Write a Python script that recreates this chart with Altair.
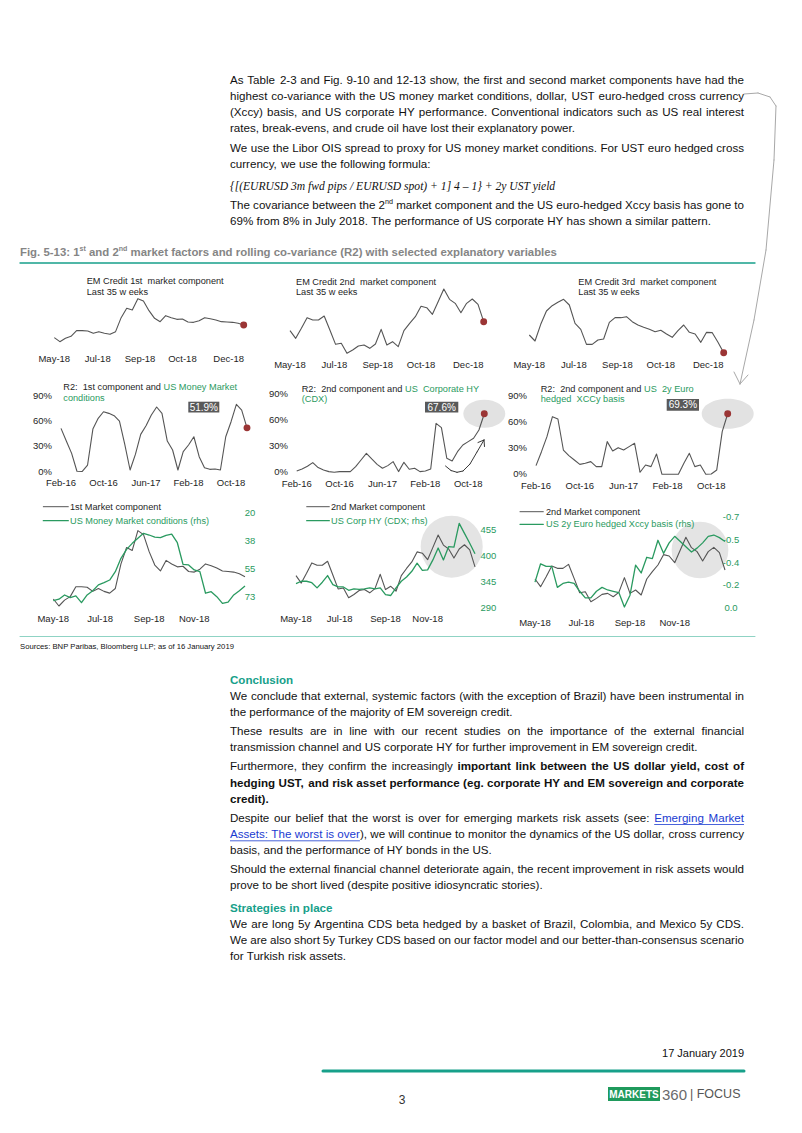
import altair as alt
import pandas as pd

OFF = 8
FONT = "Liberation Sans"
INK = "#111111"
GREEN = "#2a9a60"
TEAL = "#17a08a"
GREYLINE = "#555555"
DOT = "#9b3535"
LINK = "#1a3bd1"

# ---------------- data ----------------
comp1 = [22, 10, 20, 26, 43, 43, 42, 35, 40, 35, 32, 40, 82, 110, 105, 139, 132, 103, 80, 70,
         88, 82, 77, 78, 69, 68, 73, 82, 79, 75, 70, 69, 68, 65, 60]
comp2 = [103, 80, 110, 142, 135, 135, 147, 105, 62, 65, 35, 45, 57, 60, 50, 63, 107, 60, 70, 55,
         103, 125, 145, 176, 172, 152, 190, 228, 197, 185, 157, 185, 198, 182, 130]
comp3 = [90, 72, 122, 162, 178, 188, 197, 180, 125, 107, 62, 62, 75, 78, 128, 142, 142, 145, 130, 120,
         113, 107, 100, 104, 93, 83, 103, 120, 98, 93, 68, 98, 97, 68, 37]
r2_mm = [51.3, 36.3, 21.7, 0.5, 0.3, 7.9, 50.5, 63.2, 71.0, 69.1, 66.3, 60.0, 32.4, 2.0, 20.5, 44.2,
         54.5, 67.1, 76.6, 69.1, 36.3, 25.7, 2.0, 23.7, 31.6, 41.4, 17.8, 4.7, 2.8, 3.2, 2.0, 41.4,
         59.2, 79.7, 73.0, 51.9]
r2_hy = [1.5, 3.8, 6.9, 11.2, 5.4, 2.7, 0.8, 0.0, 0.8, 0.8, 0.8, 6.5, 14.2, 21.9, 15.4, 9.2, 4.6,
         7.7, 12.3, 0.8, 11.5, 3.5, 4.6, 0.8, 1.5, 3.8, 56.5, 51.5, 16.2, 13.1, 23.8, 31.5, 35.4,
         39.2, 48.8, 67.6]
r2_xccy = [9.9, 25.9, 43.1, 66.0, 63.3, 27.8, 21.4, 16.4, 11.4, 12.6, 14.5, 8.8, 8.8, 37.4, 26.7,
           30.5, 27.8, 31.7, 35.5, 2.3, 10.7, 8.8, 23.3, 0.0, 0.0, 0.0, 0.0, 12.6, 24.0, 8.8, 10.7,
           0.0, 0.4, 5.0, 48.8, 69.3]
mm_rhs = [75.5, 74.6, 71.9, 73.6, 72.5, 76.8, 71.9, 69.2, 65.5, 64.1, 62.4, 57.1, 48.6, 42.9, 39.1,
          35.9, 32.7, 33.8, 35.2, 35.5, 34.0, 33.2, 38.7, 52.4, 52.8, 56.0, 57.1, 70.8, 69.8, 73.0,
          77.2, 76.5, 71.9, 69.2, 66.2]
cdx_rhs = [342, 347, 347, 344, 333, 345, 359, 340, 335, 335, 328, 331, 330, 331, 333, 331, 333, 319,
           317, 333, 347, 356, 368, 385, 370, 371, 392, 417, 392, 420, 419, 469, 448, 427, 405]
xccy_rhs = [-0.20, -0.34, -0.32, -0.32, -0.16, -0.19, -0.20, -0.19, -0.13, -0.08, -0.08, -0.13, -0.16,
            -0.14, -0.13, -0.12, -0.01, -0.10, -0.33, -0.27, -0.39, -0.38, -0.52, -0.42, -0.50, -0.55,
            -0.51, -0.47, -0.43, -0.46, -0.50, -0.55, -0.56, -0.54, -0.51]

week_ticks_top = ["May-18", "Jul-18", "Sep-18", "Oct-18", "Dec-18"]
week_pos_top = [0, 7.8, 15.4, 23, 31.3]
month_ticks = ["Feb-16", "Oct-16", "Jun-17", "Feb-18", "Oct-18"]
month_pos = [0, 8, 16, 24, 32]
week_ticks_bot = ["May-18", "Jul-18", "Sep-18", "Nov-18"]
week_pos_bot = [0, 8.3, 17, 25]
pct_ticks = [0, 30, 60, 90]
mm_ticks = [20, 37.67, 55.33, 73]
mm_labels = ["20", "38", "55", "73"]
cdx_ticks = [290, 345, 400, 455]
xccy_ticks = [0.0, -0.175, -0.35, -0.525, -0.7]
xccy_labels = ["0.0", "-0.2", "-0.4", "-0.5", "-0.7"]

para1 = ["As Table 2-3 and Fig. 9-10 and 12-13 show, the first and second market components have had the",
         "highest co-variance with the US money market conditions, dollar, UST euro-hedged cross currency",
         "(Xccy) basis, and US corporate HY performance. Conventional indicators such as US real interest",
         "rates, break-evens, and crude oil have lost their explanatory power."]
para2 = ["We use the Libor OIS spread to proxy for US money market conditions. For UST euro hedged cross",
         "currency, we use the following formula:"]
formula = "{[(EURUSD 3m fwd pips / EURUSD spot) + 1] 4 \u2013 1} + 2y UST yield"
para3 = [[("The covariance between the 2", "n"), ("nd", "s"),
          (" market component and the US euro-hedged Xccy basis has gone to", "n")],
         "69% from 8% in July 2018. The performance of US corporate HY has shown a similar pattern."]
fig_title = [[("Fig. 5-13: 1", "ft"), ("st", "fs"), (" and 2", "ft"), ("nd", "fs"),
              (" market factors and rolling co-variance (R2) with selected explanatory variables", "ft")]]
sources = "Sources: BNP Paribas, Bloomberg LLP; as of 16 January 2019"
conc1 = ["We conclude that external, systemic factors (with the exception of Brazil) have been instrumental in",
         "the performance of the majority of EM sovereign credit."]
conc2 = ["These results are in line with our recent studies on the importance of the external financial",
         "transmission channel and US corporate HY for further improvement in EM sovereign credit."]
conc3 = [[("Furthermore, they confirm the increasingly ", "n"),
          ("important link between the US dollar yield, cost of", "b")],
         [("hedging UST, and risk asset performance (eg. corporate HY and EM sovereign and corporate", "b")],
         [("credit).", "b")]]
conc4 = [[("Despite our belief that the worst is over for emerging markets risk assets (see: ", "n"),
          ("Emerging Market", "l")],
         [("Assets: The worst is over", "l"),
          ("), we will continue to monitor the dynamics of the US dollar, cross currency", "n")],
         "basis, and the performance of HY bonds in the US."]
conc5 = ["Should the external financial channel deteriorate again, the recent improvement in risk assets would",
         "prove to be short lived (despite positive idiosyncratic stories)."]
strat = ["We are long 5y Argentina CDS beta hedged by a basket of Brazil, Colombia, and Mexico 5y CDS.",
         "We are also short 5y Turkey CDS based on our factor model and our better-than-consensus scenario",
         "for Turkish risk assets."]

# ---------------- font metrics (Arial / Helvetica) ----------------
REG = {c: 556 for c in "0123456789"}
REG.update({' ': 278, '!': 278, '"': 355, '#': 556, '$': 556, '%': 889, '&': 667, "'": 191, '(': 333,
            ')': 333, '*': 389, '+': 584, ',': 278, '-': 333, '.': 278, '/': 278, ':': 278, ';': 278,
            '?': 556, '[': 278, ']': 278, '{': 334, '}': 334, '|': 260, '\u2013': 556})
REG.update(dict(zip("ABCDEFGHIJKLMNOPQRSTUVWXYZ",
                    [667, 667, 722, 722, 667, 611, 778, 722, 278, 500, 667, 556, 833, 722, 778, 667, 778,
                     722, 667, 611, 722, 667, 944, 667, 667, 611])))
REG.update(dict(zip("abcdefghijklmnopqrstuvwxyz",
                    [556, 556, 500, 556, 556, 278, 556, 556, 222, 222, 500, 222, 833, 556, 556, 556, 556,
                     333, 500, 278, 556, 500, 722, 500, 500, 500])))
BOLD = {c: 556 for c in "0123456789"}
BOLD.update({' ': 278, '!': 333, '"': 474, '%': 889, '&': 722, "'": 238, '(': 333, ')': 333, ',': 278,
             '-': 333, '.': 278, '/': 278, ':': 333, ';': 333, '?': 611, '[': 333, ']': 333})
BOLD.update(dict(zip("ABCDEFGHIJKLMNOPQRSTUVWXYZ",
                     [722, 722, 722, 722, 667, 611, 778, 722, 278, 556, 722, 611, 833, 722, 778, 667, 778,
                      722, 667, 611, 722, 667, 944, 667, 667, 611])))
BOLD.update(dict(zip("abcdefghijklmnopqrstuvwxyz",
                     [556, 611, 556, 611, 556, 333, 611, 611, 278, 278, 556, 278, 889, 611, 611, 611, 611,
                      389, 556, 333, 611, 556, 778, 556, 556, 500])))

STY = {
    "n": dict(bold=False, sup=False, color=INK),
    "b": dict(bold=True, sup=False, color=INK),
    "l": dict(bold=False, sup=False, color=LINK),
    "s": dict(bold=False, sup=True, color=INK),
    "ft": dict(bold=True, sup=False, color="#858585"),
    "fs": dict(bold=True, sup=True, color="#858585"),
    "c": dict(bold=False, sup=False, color="#1e1e1e"),
    "g": dict(bold=False, sup=False, color=GREEN),
    "h": dict(bold=True, sup=False, color=TEAL),
}


def P(v):
    return v - OFF


def tw(text, bold, size):
    tab = BOLD if bold else REG
    return sum(tab.get(ch, 556) for ch in text) * size / 1000.0


def tokenize(line):
    toks, sp = [], 0
    for text, st in line:
        parts = text.split(" ")
        for k, p in enumerate(parts):
            if k > 0:
                sp += 1
            if p == "":
                continue
            toks.append((p, st, sp if toks else 0))
            sp = 0
    return toks


def text_block(lines, x0, y0, lh, size, target=None, style="n"):
    rows, unders = [], []
    for li, line in enumerate(lines):
        if isinstance(line, str):
            line = [(line, style)]
        toks = tokenize(line)
        ws = [tw(t, STY[st]["bold"], size * (0.62 if STY[st]["sup"] else 1)) for t, st, sp in toks]
        nsp = sum(sp for _, _, sp in toks)
        spw = 278 * size / 1000
        nat = sum(ws) + nsp * spw
        if target is not None and nsp > 0 and li < len(lines) - 1:
            spw = spw + (target - nat) / nsp
        x, y = x0, y0 + li * lh
        run = None
        for (t, st, sp), w in zip(toks, ws):
            x += sp * spw
            rows.append(dict(t=t, x=P(x), y=P(y), st=st))
            if st == "l":
                run = [x, x + w] if run is None else [run[0], x + w]
            elif run is not None:
                unders.append(dict(x=P(run[0]), x2=P(run[1]), y=P(y + 6)))
                run = None
            x += w
        if run is not None:
            unders.append(dict(x=P(run[0]), x2=P(run[1]), y=P(y + 6)))
    df = pd.DataFrame(rows)
    out = []
    for st in df["st"].unique():
        s = STY[st]
        fs = size * (0.62 if s["sup"] else 1)
        out.append(alt.Chart(df[df["st"] == st][["t", "x", "y"]]).mark_text(
            align="left", baseline="middle", font=FONT, fontSize=fs,
            fontWeight="bold" if s["bold"] else "normal", color=s["color"],
            dy=(-size * 0.32 if s["sup"] else 0)).encode(
            x=alt.X("x:Q", scale=None, axis=None), y=alt.Y("y:Q", scale=None, axis=None), text="t:N"))
    if unders:
        out.append(alt.Chart(pd.DataFrame(unders)).mark_rule(color=LINK, strokeWidth=0.8).encode(
            x=alt.X("x:Q", scale=None, axis=None), x2="x2:Q", y=alt.Y("y:Q", scale=None, axis=None)))
    return out


ONE = pd.DataFrame({"k": [0]})


def rule(x1, y1, x2, y2, color, w=1.0):
    return alt.Chart(ONE).mark_rule(color=color, strokeWidth=w, strokeCap="round").encode(
        x=alt.value(P(x1)), x2=alt.value(P(x2)), y=alt.value(P(y1)), y2=alt.value(P(y2)))


def rect(x1, y1, x2, y2, color):
    return alt.Chart(ONE).mark_rect(color=color, opacity=1).encode(
        x=alt.value(P(x1)), x2=alt.value(P(x2)), y=alt.value(P(y1)), y2=alt.value(P(y2)))


def label(x, y, text, size, color=INK, align="left", weight="normal", font=FONT, style="normal"):
    return alt.Chart(ONE).mark_text(text=text, align=align, baseline="middle", fontSize=size, color=color,
                                    fontWeight=weight, font=font, fontStyle=style).encode(
        x=alt.value(P(x)), y=alt.value(P(y)))


def xsc(n, a, b):
    return alt.Scale(domain=[0, n - 1], range=[P(a), P(b)], nice=False, zero=False)


def ysc(d0, d1, p0, p1):
    return alt.Scale(domain=[d0, d1], range=[P(p0), P(p1)], nice=False, zero=False)


def sdf(vals):
    return pd.DataFrame({"i": list(range(len(vals))), "v": vals})


def line_layer(vals, xs, ys, color, w=1.1):
    return alt.Chart(sdf(vals)).mark_line(color=color, strokeWidth=w, strokeJoin="round").encode(
        x=alt.X("i:Q", scale=xs, axis=None), y=alt.Y("v:Q", scale=ys, axis=None))


def last_point(vals, xs, ys):
    return alt.Chart(sdf(vals)).transform_filter(alt.datum.i == len(vals) - 1).encode(
        x=alt.X("i:Q", scale=xs, axis=None), y=alt.Y("v:Q", scale=ys, axis=None))


def end_dot(vals, xs, ys, size=48):
    return last_point(vals, xs, ys).mark_circle(color=DOT, size=size, opacity=1)


def ellipse(vals, xs, ys, rx, ry):
    path = "M-1,0A1,%.3f,0,1,0,1,0A1,%.3f,0,1,0,-1,0Z" % (ry / rx, ry / rx)
    return last_point(vals, xs, ys).mark_point(shape=path, size=(2 * rx) ** 2, filled=True,
                                               color="#e2e2e2", opacity=1, strokeWidth=0)


def xlabels(labels, pos, xs, y, size=9.5):
    df = pd.DataFrame({"p": pos, "lab": labels})
    return alt.Chart(df).mark_text(font=FONT, fontSize=size, color="#1e1e1e", align="center",
                                   baseline="middle").encode(
        x=alt.X("p:Q", scale=xs, axis=None), y=alt.value(P(y)), text="lab:N")


def ylabels(labels, pos, ys, x, align="right", color="#1e1e1e", size=9.5):
    df = pd.DataFrame({"p": pos, "lab": labels})
    return alt.Chart(df).mark_text(font=FONT, fontSize=size, color=color, align=align,
                                   baseline="middle").encode(
        y=alt.Y("p:Q", scale=ys, axis=None), x=alt.value(P(x)), text="lab:N")


def value_box(vals, x1, y1, x2, y2):
    return [rect(x1, y1, x2, y2, "#595959"),
            alt.Chart(sdf(vals)).transform_filter(alt.datum.i == len(vals) - 1).transform_calculate(
                lab="format(datum.v, '.1f') + '%'").mark_text(
                font=FONT, fontSize=10, color="white", align="center", baseline="middle").encode(
                x=alt.value(P((x1 + x2) / 2)), y=alt.value(P((y1 + y2) / 2 + 0.5)), text="lab:N")]


layers = []

# ---------------- page text ----------------
BODY = 11.6
LH = 16.3
layers += text_block(para1, 230, 80.5, LH, BODY, 514)
layers += text_block(para2, 230, 149, LH, BODY, 514)
layers.append(label(230, 187, formula, 11.6, INK, font="Liberation Serif", style="italic"))
layers += text_block(para3, 230, 205.5, LH, BODY, 514)

layers += text_block(fig_title, 20, 253, 12, 11.4)
layers.append(rule(20, 263, 755, 263, TEAL, 1.4))
layers.append(rule(20, 636.5, 755, 636.5, "#8fd3c4", 1))
layers.append(label(20, 647, sources, 7.7, INK))

layers += text_block(["Conclusion"], 230, 681, LH, BODY, style="h")
layers += text_block(conc1, 230, 696.5, LH, BODY, 514)
layers += text_block(conc2, 230, 732, LH, BODY, 514)
layers += text_block(conc3, 230, 767.3, LH, BODY, 514)
layers += text_block(conc4, 230, 818.5, LH, BODY, 514)
layers += text_block(conc5, 230, 869.5, LH, BODY, 514)
layers += text_block(["Strategies in place"], 230, 909, LH, BODY, style="h")
layers += text_block(strat, 230, 924.5, LH, BODY, 514)

# footer
layers.append(label(744, 1054, "17 January 2019", 11, INK, align="right"))
layers.append(rule(323, 1071, 744, 1071, TEAL, 3))
layers.append(label(402, 1100, "3", 12, "#333333", align="center"))
layers.append(rect(608, 1087, 660, 1101, "#1f9a5c"))
layers.append(label(634, 1094.5, "MARKETS", 10, "white", align="center", weight="bold"))
layers.append(label(662, 1094.5, "360", 15, "#6a6a6a"))
layers.append(label(690, 1093.5, "| FOCUS", 12.5, "#555555"))

# hand-drawn arrow on the right margin
AR = "#a8a8a8"
for seg in [(744, 94, 758, 93), (758, 93, 770, 97), (770, 97, 776, 106), (776, 106, 774, 160),
            (774, 160, 766, 250), (766, 250, 754, 320), (754, 320, 740, 384),
            (740, 384, 734, 372), (740, 384, 748, 375)]:
    layers.append(rule(*seg, AR, 1))

# ---------------- row 1 ----------------
n = len(comp1)
xs1 = xsc(n, 54.3, 243.7)
ys1 = ysc(0, 240, 345, 265)
layers += [line_layer(comp1, xs1, ys1, GREYLINE), end_dot(comp1, xs1, ys1),
           xlabels(week_ticks_top, week_pos_top, xs1, 359.3)]
layers += text_block(["EM Credit 1st  market component", "Last 35 w eeks"], 86.7, 281, 10.7, 9.2, style="c")

xs2 = xsc(n, 290, 483.7)
ys2 = ysc(0, 300, 365, 265)
layers += [line_layer(comp2, xs2, ys2, GREYLINE), end_dot(comp2, xs2, ys2),
           xlabels(week_ticks_top, week_pos_top, xs2, 365)]
layers += text_block(["EM Credit 2nd  market component", "Last 35 w eeks"], 296, 281.7, 10.3, 9.2, style="c")

xs3 = xsc(n, 529.3, 723.7)
ys3 = ysc(0, 300, 365, 265)
layers += [line_layer(comp3, xs3, ys3, GREYLINE), end_dot(comp3, xs3, ys3),
           xlabels(week_ticks_top, week_pos_top, xs3, 365)]
layers += text_block(["EM Credit 3rd  market component", "Last 35 w eeks"], 578.3, 281.7, 10.3, 9.2, style="c")

# ---------------- row 2 ----------------
m = len(r2_mm)
pct_labels = ["%d%%" % p for p in pct_ticks]
xs4 = xsc(m, 61, 247)
ys4 = ysc(0, 90, 471.7, 395.7)
layers += [line_layer(r2_mm, xs4, ys4, GREYLINE), end_dot(r2_mm, xs4, ys4),
           xlabels(month_ticks, month_pos, xs4, 483.3), ylabels(pct_labels, pct_ticks, ys4, 52)]
layers += value_box(r2_mm, 188.3, 401.7, 219.3, 412.5)
layers += text_block([[("R2:  1st component and ", "c"), ("US Money Market", "g")], [("conditions", "g")]],
                     63.3, 386.7, 11, 9.2)

xs5 = xsc(m, 296.7, 484.3)
ys5 = ysc(0, 90, 472.3, 394.3)
layers += [ellipse(r2_hy, xs5, ys5, 21, 14), line_layer(r2_hy, xs5, ys5, GREYLINE), end_dot(r2_hy, xs5, ys5),
           xlabels(month_ticks, month_pos, xs5, 484.3), ylabels(pct_labels, pct_ticks, ys5, 288)]
layers += value_box(r2_hy, 425, 401.7, 458.3, 412.5)
layers += text_block([[("R2:  2nd component and ", "c"), ("US  Corporate HY", "g")], [("(CDX)", "g")]],
                     301.7, 389, 10.3, 9.2)
for seg in [(445.5, 466, 451, 470.5), (451, 470.5, 457, 472.3), (457, 472.3, 463, 471), (463, 471, 470, 464),
            (470, 464, 477, 452), (477, 452, 484, 440), (484, 440, 478, 442.5), (484, 440, 484.5, 446.5)]:
    layers.append(rule(*seg, "#222222", 0.9))

xs6 = xsc(m, 536, 727.7)
ys6 = ysc(0, 90, 474.3, 395.7)
layers += [ellipse(r2_xccy, xs6, ys6, 26, 15), line_layer(r2_xccy, xs6, ys6, GREYLINE),
           end_dot(r2_xccy, xs6, ys6),
           xlabels(month_ticks, month_pos, xs6, 486), ylabels(pct_labels, pct_ticks, ys6, 527)]
layers += value_box(r2_xccy, 666.7, 399, 699, 410.7)
layers += text_block([[("R2:  2nd component and ", "c"), ("US  2y Euro", "g")], [("hedged  XCCy basis", "g")]],
                     540.7, 389, 10, 9.2)

# ---------------- row 3 ----------------
xs7 = xsc(n, 53.3, 245)
ys7a = ysc(10, 140, 606, 530)
ys7b = ysc(20, 73, 513.3, 596.7)
layers += [line_layer(comp1, xs7, ys7a, GREYLINE), line_layer(mm_rhs, xs7, ys7b, GREEN, 1.3),
           xlabels(week_ticks_bot, week_pos_bot, xs7, 619.3),
           ylabels(mm_labels, mm_ticks, ys7b, 250, align="center", color=GREEN)]
layers += [rule(43.3, 506.7, 68.3, 506.7, GREYLINE), rule(43.3, 520.7, 68.3, 520.7, GREEN, 1.3)]
layers += text_block([[("1st Market component", "c")], [("US Money Market conditions (rhs)", "g")]],
                     70, 506.7, 14, 9.2)

xs8 = xsc(n, 296, 475)
ys8a = ysc(35, 228, 597.7, 535)
ys8b = ysc(290, 455, 608.3, 530)
layers += [alt.Chart(ONE).mark_circle(size=3.1416 * 35 ** 2, color="#e4e4e4", opacity=1).encode(
    x=alt.value(P(451.7)), y=alt.value(P(546.7)))]
layers += [line_layer(comp2, xs8, ys8a, GREYLINE), line_layer(cdx_rhs, xs8, ys8b, GREEN, 1.3),
           xlabels(week_ticks_bot, week_pos_bot, xs8, 619.3),
           ylabels([str(v) for v in cdx_ticks], cdx_ticks, ys8b, 488.3, align="center", color=GREEN)]
layers += [rule(306.7, 506.7, 329.3, 506.7, GREYLINE), rule(306.7, 520.7, 329.3, 520.7, GREEN, 1.3)]
layers += text_block([[("2nd Market component", "c")], [("US Corp HY (CDX; rhs)", "g")]],
                     331, 506.7, 14, 9.2)

xs9 = xsc(n, 535, 725)
ys9a = ysc(35, 228, 601.7, 537.3)
ys9b = ysc(0, -0.7, 608.3, 516.7)
layers += [alt.Chart(ONE).mark_circle(size=3.1416 * 32 ** 2, color="#e4e4e4", opacity=1).encode(
    x=alt.value(P(700)), y=alt.value(P(550)))]
layers += [line_layer(comp2, xs9, ys9a, GREYLINE), line_layer(xccy_rhs, xs9, ys9b, GREEN, 1.3),
           xlabels(week_ticks_bot, week_pos_bot, xs9, 622.7),
           ylabels(xccy_labels, xccy_ticks, ys9b, 731, align="center", color=GREEN)]
layers += [rule(520, 511.7, 543.3, 511.7, GREYLINE), rule(520, 524.3, 543.3, 524.3, GREEN, 1.3)]
layers += text_block([[("2nd Market component", "c")], [("US 2y Euro hedged Xccy basis (rhs)", "g")]],
                     546, 511.7, 12.6, 9.2)

chart = alt.layer(*layers).resolve_scale(x="independent", y="independent").properties(
    width=786, height=1108, padding=0, autosize=alt.AutoSizeParams(type="none")
).configure_view(stroke=None)

chart.save("out.html", embed_options={"renderer": "svg", "actions": False})
